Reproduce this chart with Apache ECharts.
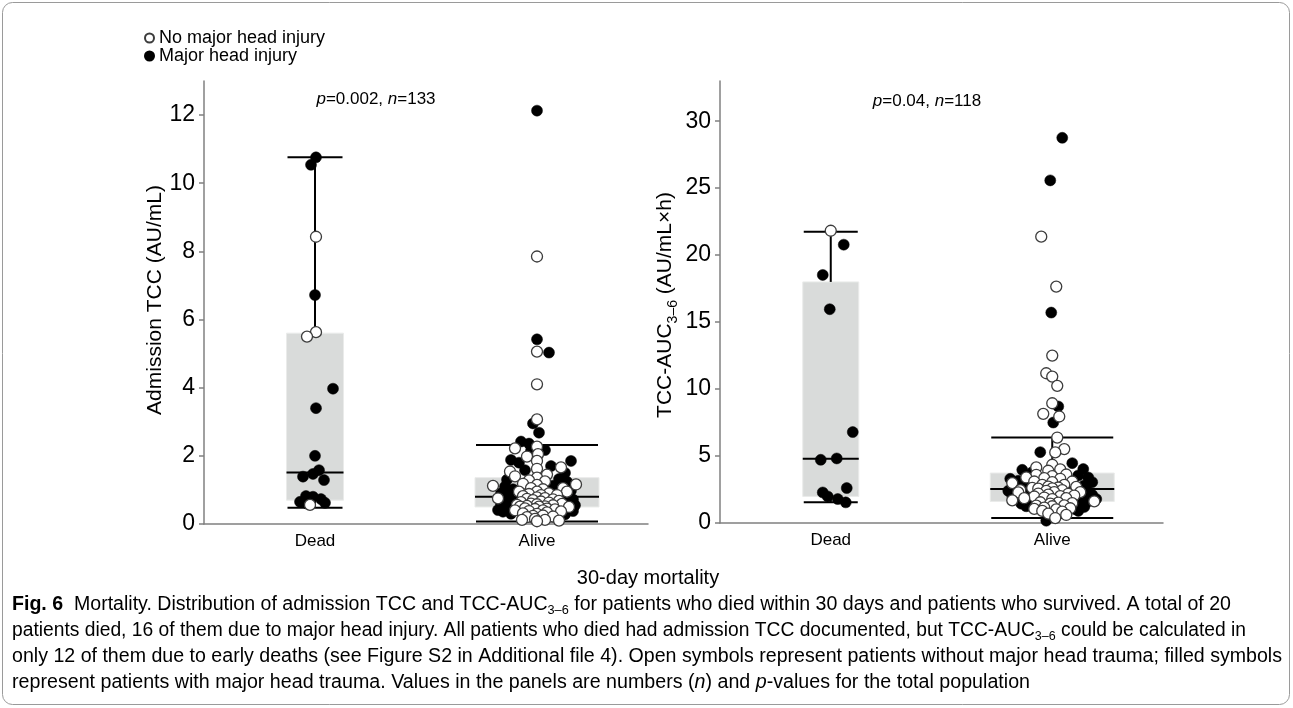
<!DOCTYPE html>
<html><head><meta charset="utf-8">
<script src="https://cdn.jsdelivr.net/npm/echarts@6/dist/echarts.min.js"></script>
<style>html,body{margin:0;padding:0;background:#fff}#c{width:1293px;height:708px}</style>
</head><body><div id="c"></div>
<script>
// ---------------- DATA ----------------
const categories = ['Dead', 'Alive'];
const leftTicks = [0, 2, 4, 6, 8, 10, 12];
const rightTicks = [0, 5, 10, 15, 20, 25, 30];
const leftMax = 13;
const rightMax = 33;

// box statistics: [lower whisker, Q1, median, Q3, upper whisker]
const leftDeadBox  = [0.48, 0.70, 1.51, 5.60, 10.76];
const leftAliveBox = [0.07, 0.50, 0.80, 1.36, 2.32];
const rightDeadBox  = [1.54, 1.98, 4.80, 18.0, 21.75];
const rightAliveBox = [0.37, 1.61, 2.54, 3.73, 6.38];

// individual patients: [horizontal jitter, value]
const leftDeadMajor = [[1,10.76],[-4,10.54],[0,6.72],[18,3.97],[1,3.40],[0,2.00],[4,1.58],[-2,1.47],[-12,1.39],[9,1.29],[-9,0.82],[6,0.73],[-15,0.65],[-2,0.80],[-8,0.60],[10,0.62]];
const leftDeadNoMajor = [[1,8.43],[1,5.63],[-8,5.50],[-5,0.56]];

const leftAliveMajor = [[0,12.13],[0,5.42],[12,5.03],[-4,2.95],[2,2.68],
  [-16,2.42],[-8,2.36],[8,2.17],[-6,2.15],[-26,1.88],[34,1.85],[-18,1.80],[14,1.70],[-12,1.58],[28,1.50],
  [-30,1.30],[22,1.32],[30,1.24],[-32,1.10],[16,1.12],[-24,1.02],[34,0.98],[-36,0.90],[-28,0.85],[28,0.82],
  [-32,0.72],[36,0.72],[-24,0.66],[30,0.62],[-36,0.58],[38,0.55],[-28,0.52],[24,0.50],
  [-39,0.41],[30,0.41],[-30,0.44],[36,0.38],[-34,0.36],[20,0.33],[-26,0.30],[28,0.28]];
const leftAliveNoMajor = [[0,7.85],[0,5.06],[0,4.10],[0,3.07],
  [-22,2.22],[0,2.27],[1,2.05],[-10,1.98],[0,1.85],[24,1.66],[-27,1.54],[0,1.62],[-22,1.40],[10,1.45],
  [0,1.36],[-8,1.28],[8,1.25],[39,1.16],[-44,1.12],[-14,1.18],[0,1.15],[26,1.05],[-6,1.05],[6,1.02],[30,0.95],[-18,0.95],[0,0.95],[12,0.90],[-8,0.88],[20,0.85],[4,0.85],[-14,0.82],
  [-39,0.75],[0,0.78],[8,0.76],[-10,0.74],[16,0.72],[-4,0.70],[22,0.68],[4,0.66],[-16,0.64],[12,0.63],[-6,0.60],[25,0.59],[0,0.58],[-20,0.56],[16,0.55],[-10,0.53],[8,0.52],[-17,0.51],[2,0.51],[32,0.50],
  [-12,0.46],[10,0.45],[-2,0.44],[18,0.43],[-22,0.40],[6,0.40],[-8,0.38],[24,0.37],[-14,0.31],[10,0.34],[0,0.30],[-4,0.24],[6,0.25],[-10,0.20],[16,0.22],[-2,0.15],[8,0.12],[-15,0.12],[0,0.08],[22,0.10]];

const rightDeadMajor = [[13,20.78],[-8,18.52],[-1,15.96],[22,6.79],[-10,4.72],[6,4.82],[16,2.61],[-8,2.28],[-3,1.98],[7,1.79],[15,1.54]];
const rightDeadNoMajor = [[0,21.82]];

const rightAliveMajor = [[10,28.76],[-2,25.58],[-1,15.71],[6,8.70],[1,7.50],
  [-12,5.29],[20,4.47],[-30,3.97],[31,4.03],[-20,3.80],
  [-42,3.30],[26,3.55],[36,3.40],[-34,3.15],[40,3.05],[-28,2.90],[32,2.80],[-38,2.70],[18,2.58],
  [-44,2.40],[36,2.35],[-24,2.20],[40,2.10],[-40,2.05],[30,1.95],[-36,1.80],[44,1.79],[24,1.72],
  [-31,1.44],[34,1.50],[-22,1.40],[28,1.35],[-26,1.25],[32,1.20],[22,1.05],[26,0.90],[-6,0.17]];
const rightAliveNoMajor = [[-11,21.38],[4,17.65],[0,12.50],[-6,11.18],[0,10.93],[5,10.24],[0,8.94],[-9,8.15],[7,7.95],[5,6.38],
  [12,5.52],[3,5.27],[0,4.35],[-16,4.15],[8,4.00],[-4,3.90],
  [-16,3.60],[14,3.62],[0,3.50],[-26,3.40],[-8,3.35],[8,3.30],[-40,2.98],[20,3.10],[-18,3.10],[0,3.05],[12,2.85],[-10,2.85],[24,2.70],[-4,2.72],[6,2.65],[-20,2.62],[0,2.58],[-14,2.56],
  [-32,2.45],[10,2.45],[-6,2.40],[28,2.30],[-34,2.28],[2,2.30],[-14,2.20],[16,2.18],[-4,2.12],[22,2.05],[8,2.00],[-18,1.98],[-8,1.90],[-28,1.85],[14,1.85],[0,1.78],[-40,1.69],[42,1.61],
  [-12,1.55],[6,1.52],[20,1.48],[-2,1.45],[-16,1.30],[12,1.32],[0,1.25],[-8,1.15],[18,1.10],[-18,1.05],[4,1.02],[-10,0.90],[10,0.85],[-4,0.70],[14,0.60],[3,0.37]];

// ---------------- LAYOUT / STYLE ----------------
const FONT = "'Liberation Sans', Arial, sans-serif";
const G = [{left: 204, top: 81, width: 444, height: 443}, {left: 720, top: 81, width: 443, height: 442}];
const boxWidths = [[57, 124], [56, 124]];
const openStyle = {color: '#ffffff', borderColor: '#3c3c3c', borderWidth: 1.3, opacity: 1};
const fillStyle = {color: '#000000', borderColor: '#000000', borderWidth: 0.5, opacity: 1};
const NAME_OPEN = 'No major head injury', NAME_FILL = 'Major head injury';

function jitterData(dead, alive, width) {
  const c0 = width / 4, c1 = width * 3 / 4;
  return dead.map(p => [c0 + p[0], p[1]]).concat(alive.map(p => [c1 + p[0], p[1]]));
}

function boxSeries(xi, yi, boxes, widths) {
  return {
    type: 'custom', xAxisIndex: xi, yAxisIndex: yi, z: 1, silent: true,
    data: boxes.map((b, i) => [i].concat(b)),
    encode: {x: 0, y: [1, 2, 3, 4, 5]},
    renderItem: function (params, api) {
      const i = api.value(0);
      const w = widths[i];
      const cx = api.coord([i, api.value(3)])[0];
      const y = k => api.coord([i, api.value(k)])[1];
      const yLow = y(1), yQ1 = y(2), yMed = y(3), yQ3 = y(4), yHigh = y(5);
      const ln = (x1, y1, x2, y2) => ({type: 'line', shape: {x1, y1, x2, y2}, style: {stroke: '#000', lineWidth: 2}});
      return {type: 'group', children: [
        {type: 'rect', shape: {x: cx - w / 2, y: yQ3, width: w, height: yQ1 - yQ3}, style: {fill: '#d9dbda', stroke: '#eaebea', lineWidth: 1}},
        ln(cx, yQ3, cx, yHigh), ln(cx, yLow, cx, yQ1),
        ln(cx - w / 2 + 1, yHigh, cx + w / 2 - 1, yHigh),
        ln(cx - w / 2 + 1, yLow, cx + w / 2 - 1, yLow),
        ln(cx - w / 2, yMed, cx + w / 2, yMed)
      ]};
    }
  };
}

function scatter(name, xi, yi, data, style) {
  return {type: 'scatter', name, xAxisIndex: xi, yAxisIndex: yi, data, symbol: 'circle', symbolSize: 11, itemStyle: style, z: 3, silent: true, animation: false};
}

const axisLineStyle = {lineStyle: {color: '#808080', width: 1.5}};
function catAxis(gi) {
  return {type: 'category', gridIndex: gi, data: categories, boundaryGap: true,
    axisLine: axisLineStyle, axisTick: {show: false},
    axisLabel: {color: '#000', fontFamily: FONT, fontSize: 17, margin: 9}};
}
function hiddenX(gi, w) { return {type: 'value', gridIndex: gi, min: 0, max: w, show: false}; }
function valAxis(gi, max, ticks) {
  return {type: 'value', gridIndex: gi, min: 0, max: max,
    axisLine: Object.assign({show: true}, axisLineStyle),
    axisTick: {show: true, length: 5, lineStyle: {color: '#808080', width: 1.5}, customValues: ticks},
    axisLabel: {color: '#000', fontFamily: FONT, fontSize: 23, margin: 9, customValues: ticks},
    splitLine: {show: false}};
}

// caption text measurement for horizontal fitting
const mctx = document.createElement('canvas').getContext('2d');
function segWidth(segs) {
  let w = 0;
  segs.forEach(s => { mctx.font = s[1]; w += mctx.measureText(s[0]).width; });
  return w;
}
const CAP = 20, CAPSUB = 13;
const fR = CAP + 'px ' + FONT, fB = 'bold ' + CAP + 'px ' + FONT, fI = 'italic ' + CAP + 'px ' + FONT, fS = CAPSUB + 'px ' + FONT;
const captionLines = [
  [['Fig. 6', fB, 'b'], ['  Mortality. Distribution of admission TCC and TCC-AUC', fR, 'r'], ['3–6', fS, 's'], [' for patients who died within 30 days and patients who survived. A total of 20', fR, 'r']],
  [['patients died, 16 of them due to major head injury. All patients who died had admission TCC documented, but TCC-AUC', fR, 'r'], ['3–6', fS, 's'], [' could be calculated in', fR, 'r']],
  [['only 12 of them due to early deaths (see Figure S2 in Additional file ', fR, 'r'], ['4', fR, 'l'], ['). Open symbols represent patients without major head trauma; filled symbols', fR, 'r']],
  [['represent patients with major head trauma. Values in the panels are numbers (', fR, 'r'], ['n', fI, 'i'], [') and ', fR, 'r'], ['p', fI, 'i'], ['-values for the total population', fR, 'r']]
];
const captionX = 12, captionY = [604, 630, 656, 682], captionEnd = [1231, 1246, 1282, 1030];
const capRich = {
  r: {fontSize: CAP, fontFamily: FONT, color: '#231f20', lineHeight: 26, verticalAlign: 'middle'},
  b: {fontSize: CAP, fontFamily: FONT, fontWeight: 'bold', color: '#231f20', lineHeight: 26, verticalAlign: 'middle'},
  i: {fontSize: CAP, fontFamily: FONT, fontStyle: 'italic', color: '#231f20', lineHeight: 26, verticalAlign: 'middle'},
  l: {fontSize: CAP, fontFamily: FONT, color: '#2a6ebb', lineHeight: 26, verticalAlign: 'middle'},
  s: {fontSize: CAPSUB, fontFamily: FONT, color: '#231f20', lineHeight: 13, verticalAlign: 'bottom'}
};
const esc = t => t.replace(/[{}|]/g, '');
const captionGraphics = captionLines.map((segs, k) => {
  const w = segWidth(segs);
  const sx = (captionEnd[k] - captionX) / w;
  return {type: 'text', x: captionX, y: captionY[k], scaleX: sx, scaleY: 1, silent: true,
    style: {text: segs.map(s => '{' + s[2] + '|' + esc(s[0]) + '}').join(''), rich: capRich, align: 'left', verticalAlign: 'middle'}};
});

const annRich = {
  r: {fontSize: 17, fontFamily: FONT, color: '#000'},
  i: {fontSize: 17, fontFamily: FONT, fontStyle: 'italic', color: '#000'}
};

const option = {
  animation: false,
  backgroundColor: '#ffffff',
  grid: G.map(g => Object.assign({containLabel: false}, g)),
  legend: {
    orient: 'vertical', left: 139, top: 24, itemWidth: 9, itemHeight: 9, itemGap: 0,
    selectedMode: false,
    textStyle: {fontFamily: FONT, fontSize: 18, color: '#000', lineHeight: 17.6},
    data: [{name: NAME_OPEN, icon: 'circle'}, {name: NAME_FILL, icon: 'circle'}]
  },
  xAxis: [catAxis(0), hiddenX(0, G[0].width), catAxis(1), hiddenX(1, G[1].width)],
  yAxis: [valAxis(0, leftMax, leftTicks), valAxis(1, rightMax, rightTicks)],
  series: [
    boxSeries(0, 0, [leftDeadBox, leftAliveBox], boxWidths[0]),
    boxSeries(2, 1, [rightDeadBox, rightAliveBox], boxWidths[1]),
    scatter(NAME_FILL, 1, 0, jitterData(leftDeadMajor, leftAliveMajor, G[0].width), fillStyle),
    scatter(NAME_OPEN, 1, 0, jitterData(leftDeadNoMajor, leftAliveNoMajor, G[0].width), openStyle),
    scatter(NAME_FILL, 3, 1, jitterData(rightDeadMajor, rightAliveMajor, G[1].width), fillStyle),
    scatter(NAME_OPEN, 3, 1, jitterData(rightDeadNoMajor, rightAliveNoMajor, G[1].width), openStyle)
  ],
  graphic: [
    {type: 'rect', silent: true, shape: {x: 2.5, y: 2.5, width: 1287, height: 702, r: 10}, style: {fill: 'none', stroke: '#9a9a9a', lineWidth: 1}},
    {type: 'text', x: 376, y: 99, silent: true, style: {text: '{i|p}{r|=0.002, }{i|n}{r|=133}', rich: annRich, align: 'center', verticalAlign: 'middle'}},
    {type: 'text', x: 927, y: 101, silent: true, style: {text: '{i|p}{r|=0.04, }{i|n}{r|=118}', rich: annRich, align: 'center', verticalAlign: 'middle'}},
    {type: 'text', x: 155, y: 300, rotation: Math.PI / 2, silent: true,
      style: {text: 'Admission TCC (AU/mL)', fontSize: 21, fontFamily: FONT, fill: '#000', align: 'center', verticalAlign: 'middle'}},
    {type: 'text', x: 665, y: 305, rotation: Math.PI / 2, silent: true,
      style: {text: '{a|TCC-AUC}{s|3–6}{a| (AU/mL×h)}', align: 'center', verticalAlign: 'middle',
        rich: {a: {fontSize: 21, fontFamily: FONT, color: '#000', lineHeight: 30, verticalAlign: 'middle'},
               s: {fontSize: 14, fontFamily: FONT, color: '#000', lineHeight: 14, verticalAlign: 'bottom'}}}},
    {type: 'text', x: 648, y: 578, silent: true, style: {text: '30-day mortality', fontSize: 20, fontFamily: FONT, fill: '#000', align: 'center', verticalAlign: 'middle'}}
  ].concat(captionGraphics)
};

const chart = echarts.init(document.getElementById('c'), null, {renderer: 'canvas'});
chart.setOption(option);
</script>
</body></html>
